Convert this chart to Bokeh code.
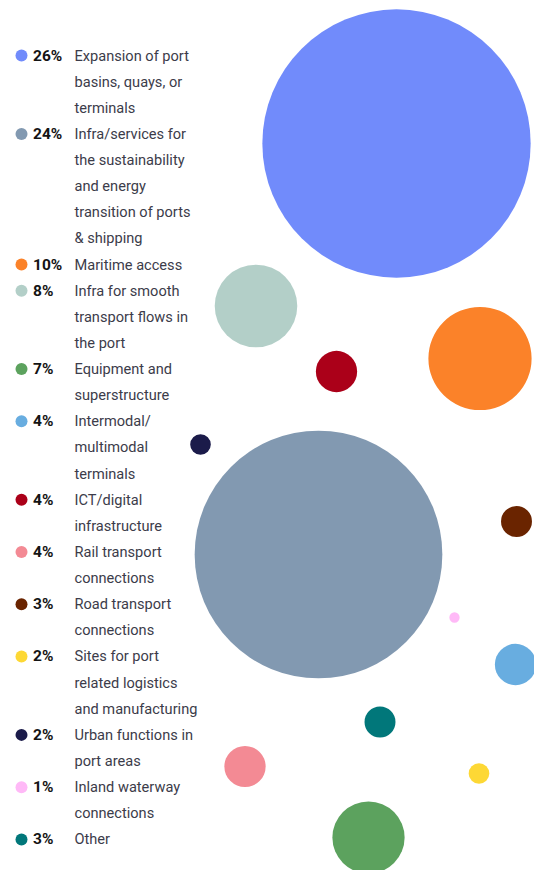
from bokeh.plotting import figure
from bokeh.models import Range1d, ColumnDataSource
from bokeh.core.properties import value
from bokeh.embed import file_html
from bokeh.resources import INLINE

# ---- data ----
categories = [
    "Expansion of port\nbasins, quays, or\nterminals",
    "Infra/services for\nthe sustainability\nand energy\ntransition of ports\n& shipping",
    "Maritime access",
    "Infra for smooth\ntransport flows in\nthe port",
    "Equipment and\nsuperstructure",
    "Intermodal/\nmultimodal\nterminals",
    "ICT/digital\ninfrastructure",
    "Rail transport\nconnections",
    "Road transport\nconnections",
    "Sites for port\nrelated logistics\nand manufacturing",
    "Urban functions in\nport areas",
    "Inland waterway\nconnections",
    "Other",
]
shares = [26, 24, 10, 8, 7, 4, 4, 4, 3, 2, 2, 1, 3]
colors = ["#718bfb", "#8299b1", "#fb8229", "#b3cfc8", "#5ca25e", "#68ade0",
          "#ab0019", "#f38a94", "#6a2400", "#fdd835", "#1b1b4a", "#ffb9f7", "#01777a"]

# ---- layout (bubble centres in picture pixels) ----
bubble_x = [396, 318, 479.5, 255.5, 368, 515, 336, 244.5, 516, 478.5, 200, 454, 379.5]
bubble_y = [143, 554, 358, 305.5, 837, 664, 371, 766, 521, 773, 444, 617, 721.5]
PX_PER_PCT = 5.16

W, H = 534, 870
p = figure(width=W, height=H, x_range=Range1d(0, W), y_range=Range1d(H, 0),
           output_backend="svg", toolbar_location=None, min_border=0)
p.axis.visible = False
p.grid.visible = False
p.outline_line_color = None

bsrc = ColumnDataSource(dict(x=bubble_x, y=bubble_y,
                             r=[v * PX_PER_PCT for v in shares], c=colors))
p.circle(x="x", y="y", radius="r", fill_color="c", line_color=None, source=bsrc)

# ---- legend ----
top, step = 55, 26.13
dot_y, pct_txt, line_y, line_txt = [], [], [], []
n = 0
for cat, v in zip(categories, shares):
    y0 = top + n * step
    dot_y.append(y0)
    pct_txt.append(f"{v}%")
    for i, ln in enumerate(cat.split("\n")):
        line_y.append(y0 + i * step)
        line_txt.append(ln)
    n += len(cat.split("\n"))

p.scatter(x=[21] * len(dot_y), y=dot_y, size=12, marker="circle",
          fill_color=colors, line_color=None)
p.text(x=[32.5] * len(dot_y), y=dot_y, text=pct_txt, text_font=value("Roboto"),
       text_font_size="15.5px", text_font_style="bold", text_baseline="middle",
       text_color="#141414")
p.text(x=[74] * len(line_y), y=line_y, text=line_txt, text_font=value("Roboto"),
       text_font_size="14.6px", text_baseline="middle", text_color="#3c3c4a")

open("out.html", "w").write(file_html(p, INLINE))
